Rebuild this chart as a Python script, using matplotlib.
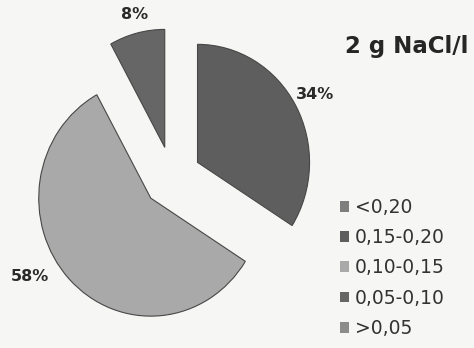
import matplotlib.pyplot as plt

# salinity classes and share of samples (%)
classes = ["<0,20", "0,15-0,20", "0,10-0,15", "0,05-0,10", ">0,05"]
shares = [0, 34, 58, 8, 0]
colors = ["#7e7e7e", "#5e5e5e", "#a9a9a9", "#666666", "#8c8c8c"]
title = "2 g NaCl/l"

fig = plt.figure(figsize=(4.74, 3.48), dpi=100)
fig.patch.set_facecolor("#f6f6f4")

# slightly taller than wide, like the printed chart
ax = fig.add_axes([0.0485, 0.040, 0.6287, 0.902])
ax.set_facecolor("none")

def pct(p):
    return "%d%%" % round(p) if p > 0.5 else ""

wedges, texts, autotexts = ax.pie(
    shares, colors=colors, startangle=90, counterclock=False,
    explode=[0.26] * len(shares), autopct=pct, pctdistance=1.2,
    wedgeprops=dict(edgecolor="#474747", linewidth=0.8),
    textprops=dict(fontsize=11.5, fontweight="bold", color="#2a2a2a"),
)
for w, v in zip(wedges, shares):
    if v == 0:
        w.set_linewidth(0)

# pull the big slice's label further out to the left
x, y = autotexts[2].get_position()
autotexts[2].set_position((x - 0.2, y + 0.16))
x, y = autotexts[3].get_position()
autotexts[3].set_position((x + 0.03, y - 0.04))

ax.set_xlim(-1.33, 1.33)
ax.set_ylim(-1.33, 1.33)
ax.set_aspect("auto")
ax.axis("off")

fig.text(0.727, 0.848, title, fontsize=16.5, fontweight="bold", color="#262626")

leg = fig.legend(wedges, classes, loc="upper left", bbox_to_anchor=(0.697, 0.458),
                 frameon=False, fontsize=13.5, handlelength=0.5, handleheight=0.5,
                 handletextpad=0.3, labelspacing=0.6, labelcolor="#333333",
                 borderpad=0)
for h in leg.legend_handles:
    h.set_linewidth(0)

fig.savefig("out.png", dpi=100, facecolor=fig.get_facecolor())
